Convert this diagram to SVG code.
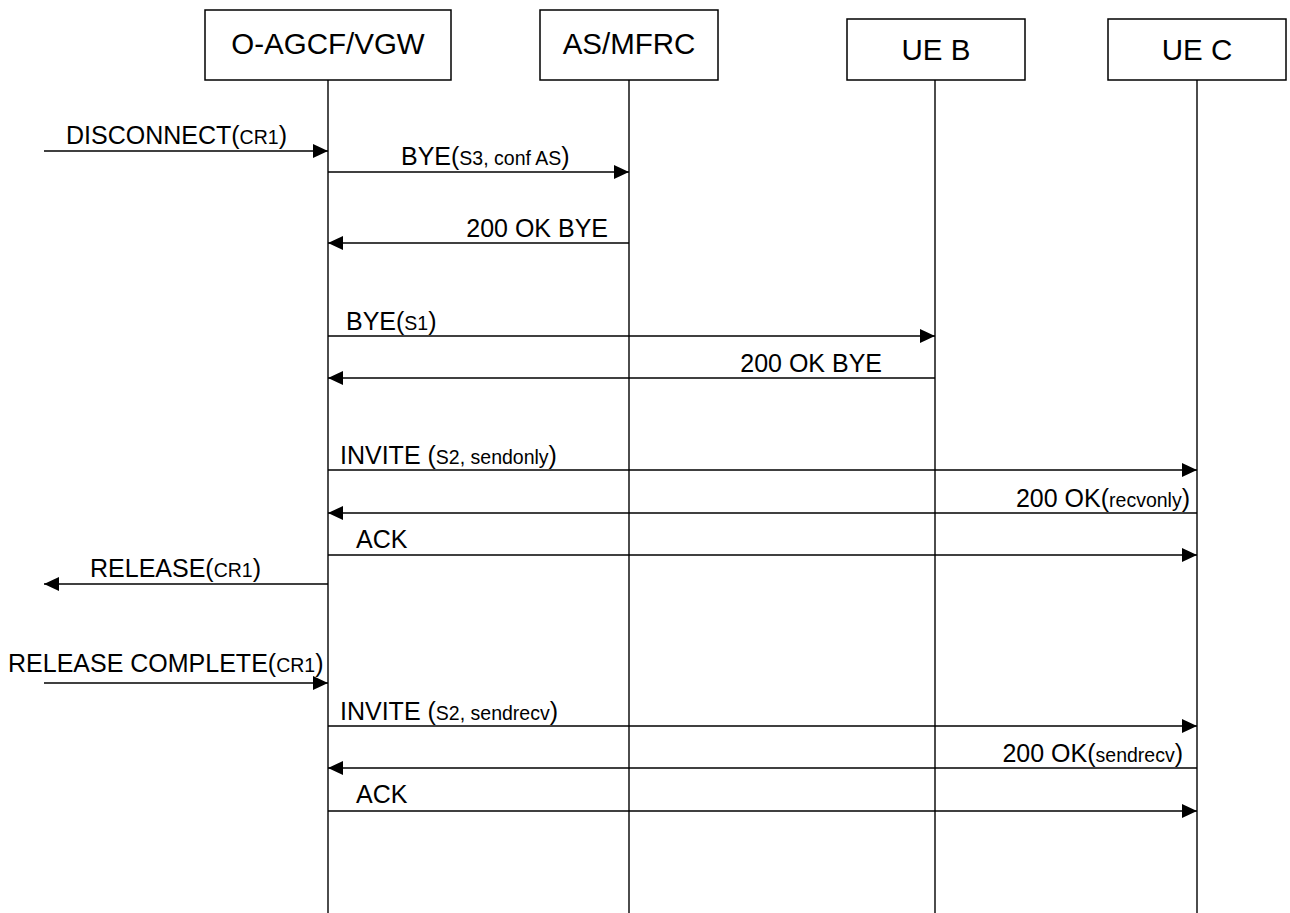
<svg xmlns="http://www.w3.org/2000/svg" width="1290" height="913" viewBox="0 0 1290 913">
<style>
.box{fill:#fff;stroke:#000;stroke-width:1.5}
.life{stroke:#000;stroke-width:1.4;fill:none}
.msg{stroke:#000;stroke-width:1.6;fill:none;marker-end:url(#ah)}
.t{font-family:"Liberation Sans",Arial,sans-serif;font-size:25px;fill:#000}
.s{font-size:19.5px}
.title{font-family:"Liberation Sans",Arial,sans-serif;font-size:29.5px;fill:#000;text-anchor:middle}
.e{text-anchor:end}
</style>
<defs>
<marker id="ah" markerUnits="userSpaceOnUse" markerWidth="16" markerHeight="14" refX="15" refY="7" orient="auto">
<path d="M0,0 L15,7 L0,14 z" fill="#000"/>
</marker>
</defs>
<g id="node-oagcf">
<rect class="box" x="205" y="10" width="246" height="70"/>
<text class="title" x="328" y="54">O-AGCF/VGW</text>
<line class="life" x1="328" y1="80" x2="328" y2="913"/>
</g>
<g id="node-asmfrc">
<rect class="box" x="540" y="10" width="178" height="70"/>
<text class="title" x="629" y="54">AS/MFRC</text>
<line class="life" x1="629" y1="80" x2="629" y2="913"/>
</g>
<g id="node-ueb">
<rect class="box" x="847" y="19" width="178" height="61"/>
<text class="title" x="936" y="60">UE B</text>
<line class="life" x1="935" y1="80" x2="935" y2="913"/>
</g>
<g id="node-uec">
<rect class="box" x="1108" y="19" width="178" height="61"/>
<text class="title" x="1197" y="60">UE C</text>
<line class="life" x1="1197" y1="80" x2="1197" y2="913"/>
</g>
<g id="connectors">
<line class="msg" x1="44" y1="151" x2="328" y2="151"/>
<line class="msg" x1="328" y1="172" x2="629" y2="172"/>
<line class="msg" x1="629" y1="243" x2="328" y2="243"/>
<line class="msg" x1="328" y1="336" x2="935" y2="336"/>
<line class="msg" x1="935" y1="378" x2="328" y2="378"/>
<line class="msg" x1="328" y1="470" x2="1197" y2="470"/>
<line class="msg" x1="1197" y1="513" x2="328" y2="513"/>
<line class="msg" x1="328" y1="555" x2="1197" y2="555"/>
<line class="msg" x1="328" y1="584" x2="44" y2="584"/>
<line class="msg" x1="44" y1="683" x2="328" y2="683"/>
<line class="msg" x1="328" y1="726" x2="1197" y2="726"/>
<line class="msg" x1="1197" y1="768" x2="328" y2="768"/>
<line class="msg" x1="328" y1="811" x2="1197" y2="811"/>
</g>
<g id="labels">
<text class="t" x="66" y="144">DISCONNECT(<tspan class="s">CR1</tspan>)</text>
<text class="t" x="401" y="165">BYE(<tspan class="s">S3, conf AS</tspan>)</text>
<text class="t e" x="608" y="237">200 OK BYE</text>
<text class="t" x="346" y="330">BYE(<tspan class="s">S1</tspan>)</text>
<text class="t e" x="882" y="372">200 OK BYE</text>
<text class="t" x="340" y="464">INVITE (<tspan class="s">S2, sendonly</tspan>)</text>
<text class="t e" x="1190" y="507">200 OK(<tspan class="s">recvonly</tspan>)</text>
<text class="t" x="356" y="548">ACK</text>
<text class="t" x="90" y="577">RELEASE(<tspan class="s">CR1</tspan>)</text>
<text class="t" x="8" y="672">RELEASE COMPLETE(<tspan class="s">CR1</tspan>)</text>
<text class="t" x="340" y="720">INVITE (<tspan class="s">S2, sendrecv</tspan>)</text>
<text class="t e" x="1183" y="762">200 OK(<tspan class="s">sendrecv</tspan>)</text>
<text class="t" x="356" y="803">ACK</text>
</g>
</svg>
